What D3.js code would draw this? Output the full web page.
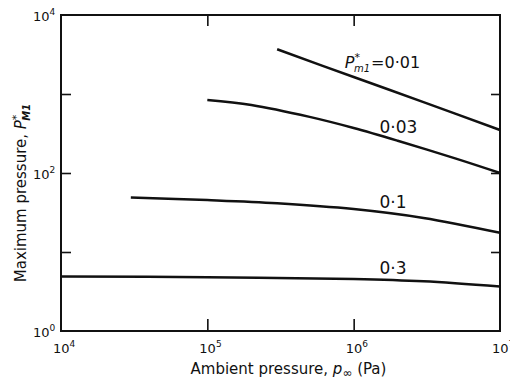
<!DOCTYPE html>
<html>
<head>
<meta charset="utf-8">
<script src="https://cdn.jsdelivr.net/npm/d3@7"></script>
<style>
  body { margin: 0; background: #fff; }
  text { font-family: "DejaVu Sans", sans-serif; fill: #111; }
</style>
</head>
<body>
<div id="chart"></div>
<script>
// Values (log-log)
var xTickVals = [1e4, 1e5, 1e6, 1e7];
var xTickExp = ["4", "5", "6", "7"];
var yTickVals = [1e1, 1e2, 1e3];
var yLabelVals = [1e0, 1e2, 1e4];
var yLabelExp = ["0", "2", "4"];

// one pair of arrays per curve: ambient pressure (Pa) and max pressure
var pinf001 = [3e5, 1e6, 3e6, 1e7];
var pmax001 = [3680, 1640, 790, 350];
var pinf003 = [1e5, 2e5, 5e5, 1e6, 2e6, 5e6, 1e7];
var pmax003 = [840, 726, 513, 371, 256, 152, 100];
var pinf01 = [3e4, 1e5, 3e5, 1e6, 3e6, 1e7];
var pmax01 = [49, 45.5, 41.5, 35, 27, 17.5];
var pinf03 = [1e4, 1e5, 1e6, 3e6, 1e7];
var pmax03 = [4.9, 4.8, 4.55, 4.25, 3.65];

// curve labels, anchored in data coordinates
var labelText = ["=0·01", "0·03", "0·1", "0·3"];
var labelPinf = [8.7e5, 1.5e6, 1.5e6, 1.5e6];
var labelPmax = [2130, 321, 36, 5.3];

var W = 510, H = 381;
var margin = {top: 15, right: 10, bottom: 50, left: 61},
    width = W - margin.left - margin.right,
    height = H - margin.top - margin.bottom;

var svg = d3.select("#chart")
  .append("svg")
  .attr("width", W)
  .attr("height", H)
  .append("g")
  .attr("transform", "translate(" + margin.left + "," + margin.top + ")");

var x = d3.scaleLog().domain([1e4, 1e7]).range([0, width]);
var y = d3.scaleLog().domain([1, 1e4]).range([height, 0]);

// inward ticks on all four sides
function styleAxis(g) {
  g.select(".domain").remove();
  g.selectAll(".tick line").attr("stroke", "#111").attr("stroke-width", 1.6);
}
svg.append("g").attr("transform", "translate(0," + height + ")")
  .call(d3.axisBottom(x).tickValues([1e5, 1e6]).tickSize(-12).tickFormat(""))
  .call(styleAxis);
svg.append("g")
  .call(d3.axisTop(x).tickValues([1e5, 1e6]).tickSize(-11).tickFormat(""))
  .call(styleAxis);
svg.append("g")
  .call(d3.axisLeft(y).tickValues(yTickVals).tickSize(-10).tickFormat(""))
  .call(styleAxis);
svg.append("g").attr("transform", "translate(" + width + ",0)")
  .call(d3.axisRight(y).tickValues(yTickVals).tickSize(-9).tickFormat(""))
  .call(styleAxis);

// frame
svg.append("rect")
  .attr("width", width)
  .attr("height", height)
  .attr("fill", "none")
  .attr("stroke", "#111")
  .attr("stroke-width", 2);

// tick labels as 10 with superscript
xTickVals.forEach(function(v, i) {
  var t = svg.append("text")
    .attr("x", x(v) - 8)
    .attr("y", height + 22)
    .style("font-size", "13px");
  t.append("tspan").text("10");
  t.append("tspan").attr("dy", -6).style("font-size", "9px").text(xTickExp[i]);
});
yLabelVals.forEach(function(v, i) {
  var t = svg.append("text")
    .attr("x", -28)
    .attr("y", y(v) + 6)
    .style("font-size", "13px");
  t.append("tspan").text("10");
  t.append("tspan").attr("dy", -6).style("font-size", "9px").text(yLabelExp[i]);
});

// axis titles
var xt = svg.append("text")
  .attr("x", width / 2 + 8)
  .attr("y", height + 43)
  .attr("text-anchor", "middle")
  .style("font-size", "15px");
xt.append("tspan").text("Ambient pressure, ");
xt.append("tspan").style("font-style", "italic").text("p");
xt.append("tspan").attr("dy", 3).style("font-size", "12px").text("∞");
xt.append("tspan").attr("dy", -3).text(" (Pa)");

var yt = svg.append("text")
  .attr("transform", "translate(" + (-35) + "," + 178 + ") rotate(-90)")
  .attr("text-anchor", "middle")
  .style("font-size", "15px");
yt.append("tspan").text("Maximum pressure, ");
yt.append("tspan").style("font-style", "italic").text("P");
yt.append("tspan").attr("dy", -6).style("font-size", "11px").text("*");
yt.append("tspan").attr("dy", 10).attr("dx", -6).style("font-size", "10px")
  .style("font-weight", "bold").style("font-style", "italic").text("M1");

// curves
var line = d3.line()
  .x(function(d) { return x(d[0]); })
  .y(function(d) { return y(d[1]); })
  .curve(d3.curveCatmullRom.alpha(0.5));

[[pinf001, pmax001], [pinf003, pmax003], [pinf01, pmax01], [pinf03, pmax03]]
  .forEach(function(s) {
    svg.append("path")
      .datum(d3.zip(s[0], s[1]))
      .attr("fill", "none")
      .attr("stroke", "#111")
      .attr("stroke-width", 2.5)
      .attr("d", line);
  });

// curve labels
labelText.forEach(function(txt, i) {
  var t = svg.append("text")
    .attr("x", x(labelPinf[i]))
    .attr("y", y(labelPmax[i]))
    .style("font-size", "17px");
  if (i === 0) {
    t.style("font-size", "16px");
    t.append("tspan").style("font-style", "italic").text("P");
    t.append("tspan").attr("dy", -7).style("font-size", "11px").text("*");
    t.append("tspan").attr("dy", 11).attr("dx", -6).style("font-size", "10px")
      .style("font-style", "italic").text("m1");
    t.append("tspan").attr("dy", -4).attr("dx", 1).text(txt);
  } else {
    t.text(txt);
  }
});
</script>
</body>
</html>
